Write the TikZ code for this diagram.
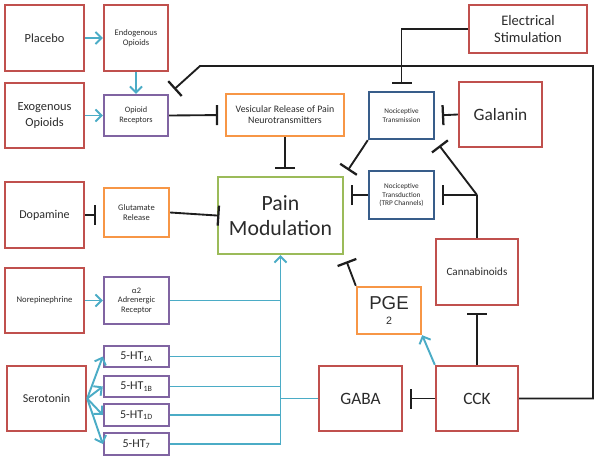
\documentclass[tikz,border=0pt]{standalone}
\usepackage{fontspec}
\setmainfont{Carlito}
\newfontfamily\arialf{Liberation Sans}
\usetikzlibrary{arrows.meta}
\definecolor{cred}{HTML}{C0504D}
\definecolor{cpurple}{HTML}{8064A2}
\definecolor{corange}{HTML}{F79646}
\definecolor{cblue}{HTML}{385D8A}
\definecolor{cgreen}{HTML}{9BBB59}
\definecolor{ccyan}{HTML}{4BACC6}
\definecolor{cline}{HTML}{1E1E1E}
\definecolor{txt}{HTML}{2B2B2B}
\newcommand\fsz[2]{\fontsize{#1}{#2}\selectfont}
\begin{document}
\begin{tikzpicture}[x=0.75pt,y=-0.75pt,
  box/.style={draw,line width=1.8pt,inner sep=0pt,align=center,text=txt},
  sz/.style 2 args={minimum width=#1*0.75pt,minimum height=#2*0.75pt},
  rbox/.style={box,draw=cred},
  pbox/.style={box,draw=cpurple},
  obox/.style={box,draw=corange},
  bbox/.style={box,draw=cblue},
  gbox/.style={box,draw=cgreen},
  act/.style={draw=ccyan,line width=1.45pt,-{Straight Barb[length=4.5pt,width=9pt,line width=1.45pt]}},
  inh/.style={draw=cline,line width=1.4pt,-{Bar[width=15pt,line width=1.7pt]},shorten >=5pt},
  conn/.style={draw=cline,line width=1.4pt},
  cyl/.style={draw=ccyan,line width=1.45pt}
]
\useasboundingbox (0,0) rectangle (600,461);

% nodes
\node[rbox,sz={79}{66},font=\fsz{9.3}{11}] (placebo) at (44.5,38) {Placebo};
\node[rbox,sz={64}{66},font=\fsz{6.4}{7.2}] (endo) at (136,38) {Endogenous\\Opioids};
\node[rbox,sz={79}{65},font=\fsz{9.3}{11.3}] (exo) at (44.5,115.5) {Exogenous\\Opioids};
\node[pbox,sz={64}{41},font=\fsz{6.2}{7.2}] (oprec) at (136,115.5) {Opioid\\Receptors};
\node[obox,sz={118}{42},font=\fsz{7.4}{8.4}] (vesic) at (285,115) {Vesicular Release of Pain\\Neurotransmitters};
\node[bbox,sz={65}{47},font=\fsz{5.4}{6.2}] (ntrans) at (401.5,115.5) {Nociceptive\\Transmission};
\node[rbox,sz={83}{65},font=\fsz{13}{15}] (galanin) at (500.5,114.5) {Galanin};
\node[rbox,sz={118}{48},font=\fsz{10.9}{12.8}] (elec) at (528,29) {Electrical\\Stimulation};
\node[gbox,sz={125}{77},font=\fsz{16.3}{19}] (pain) at (280.5,215.5) {Pain\\Modulation};
\node[rbox,sz={79}{66},font=\fsz{9}{11}] (dopa) at (44.5,215) {Dopamine};
\node[obox,sz={65}{49},font=\fsz{6.4}{7.4}] (glut) at (136.5,212.5) {Glutamate\\Release};
\node[bbox,sz={65}{48},font=\fsz{5.45}{6.2}] (ntransd) at (401.5,195) {Nociceptive\\Transduction\\(TRP Channels)};
\node[rbox,sz={82}{66},font=\fsz{8.3}{10}] (cannab) at (477,272) {Cannabinoids};
\node[rbox,sz={79}{65},font=\fsz{6.5}{8}] (norepi) at (44.5,300.5) {Norepinephrine};
\node[pbox,sz={65}{47},font=\fsz{6.3}{7.1}] (alpha) at (136.5,300.5) {α2\\Adrenergic\\Receptor};
\node[obox,sz={64}{47}] (pge) at (389,310.5) {\arialf\fsz{14}{16}PGE\\[-1pt]{\arialf\fsz{8}{8}2}};
\node[rbox,sz={79}{65},font=\fsz{9}{11}] (sero) at (46.5,398.5) {Serotonin};
\node[pbox,sz={65}{21},font=\fsz{9}{10}] (ht1a) at (136.5,356.5) {5-HT\textsubscript{1A}};
\node[pbox,sz={65}{21},font=\fsz{9}{10}] (ht1b) at (136.5,386.5) {5-HT\textsubscript{1B}};
\node[pbox,sz={65}{22},font=\fsz{9}{10}] (ht1d) at (136.5,415) {5-HT\textsubscript{1D}};
\node[pbox,sz={65}{22},font=\fsz{9}{10}] (ht7) at (136.5,444) {5-HT\textsubscript{7}};
\node[rbox,sz={83}{65},font=\fsz{13}{15}] (gaba) at (360.5,398.5) {GABA};
\node[rbox,sz={82}{65},font=\fsz{13}{15}] (cck) at (477,398.5) {CCK};

\coordinate (loopTR) at (593,66);
\coordinate (loopTL) at (200,66);
\coordinate (junc) at (477,195);

% activating (cyan) connectors
\draw[act] (placebo) -- (endo);
\draw[act] (endo) -- (oprec);
\draw[act] (exo) -- (oprec);
\draw[act] (norepi) -- (alpha);
\draw[act] (sero.east) -- (ht1a.west);
\draw[act] (sero.east) -- (ht1b.west);
\draw[act] (sero.east) -- (ht1d.west);
\draw[act] (sero.east) -- (ht7.west);
\draw[act] (cck.north west) -- (pge.south east);
\draw[cyl] (alpha.east) -- (pain.south |- alpha.east);
\draw[cyl] (ht1a.east) -- (pain.south |- ht1a.east);
\draw[cyl] (ht1b.east) -- (pain.south |- ht1b.east);
\draw[cyl] (ht1d.east) -- (pain.south |- ht1d.east);
\draw[cyl] (ht7.east) -- (pain.south |- ht7.east);
\draw[cyl] (gaba.west) -- (pain.south |- gaba.west);
\draw[act] (pain.south |- ht7.east) -- (pain.south);

% inhibiting connectors
\draw[inh] (oprec.east) -- (vesic.west);
\draw[inh] (elec.west) -| (ntrans.north);
\draw[inh] (galanin.west) -- (ntrans.east);
\draw[inh] (vesic.south) -- (pain.north -| vesic.south);
\draw[inh] (dopa.east) -- (glut.west |- dopa.east);
\draw[inh,shorten >=-2pt] (glut.east) -- (pain.west);
\draw[inh] (ntrans.south west) -- (pain.north east);
\draw[inh] (ntransd.west) -- (pain.east |- ntransd.west);
\draw[conn] (cannab.north) -- (junc);
\draw[inh] (junc) -- (ntransd.east);
\draw[inh] (junc) -- (ntrans.south east);
\draw[inh] (cck.north) -- (cannab.south);
\draw[inh] (cck.west) -- (gaba.east);
\draw[inh] (pge.north west) -- (pain.south east);
\draw[inh] (cck.east) -| (loopTR) -- (loopTL) -- (oprec.north east);
\end{tikzpicture}
\end{document}
